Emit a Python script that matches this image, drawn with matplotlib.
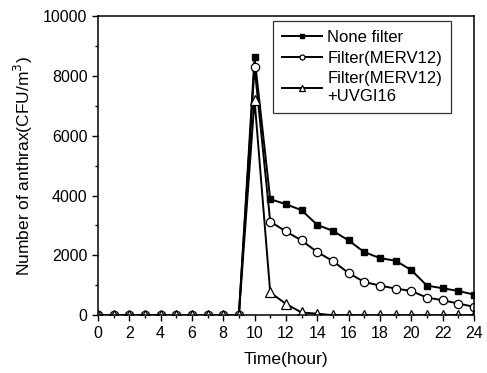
import numpy as np
import matplotlib
matplotlib.use("Agg")
import matplotlib.pyplot as plt

plt.rcParams['font.family'] = ['Liberation Sans', 'DejaVu Sans']

# hours 0..24
hours = list(range(25))

none_filter = [0, 0, 0, 0, 0, 0, 0, 0, 0, 0,
               8630, 3880, 3710, 3510, 3020, 2820, 2500, 2110, 1910, 1820,
               1510, 990, 900, 810, 690]
merv12 = [0, 0, 0, 0, 0, 0, 0, 0, 0, 0,
          8300, 3130, 2800, 2500, 2110, 1810, 1410, 1110, 990, 890,
          810, 590, 500, 390, 280]
merv12_uvgi = [0, 0, 0, 0, 0, 0, 0, 0, 0, 0,
               7210, 760, 380, 90, 50, 0, 0, 0, 0, 0,
               0, 0, 0, 0, 0]

labels = ['None filter', 'Filter(MERV12)', 'Filter(MERV12)\n+UVGI16']

fig = plt.figure(figsize=(4.87, 3.73), dpi=100)
ax = fig.add_axes([0.201, 0.155, 0.772, 0.802])

ax.plot(hours, none_filter, color='black', lw=1.4, marker='s', ms=5,
        mfc='black', mec='black', label=labels[0])
ax.plot(hours, merv12, color='black', lw=1.4, marker='o', ms=6,
        mfc='white', mec='black', mew=0.9, label=labels[1])
ax.plot(hours, merv12_uvgi, color='black', lw=1.4, marker='^', ms=6.5,
        mfc='white', mec='black', mew=0.9, label=labels[2])

ax.set_xlim(0, 24)
ax.set_ylim(0, 10000)
ax.set_xticks(range(0, 25, 2))
ax.set_xticks(range(0, 25, 1), minor=True)
ax.set_yticks(range(0, 10001, 2000))
ax.set_yticks(range(0, 10001, 1000), minor=True)
ax.tick_params(which='both', direction='out', labelsize=11.5, width=1)
ax.tick_params(which='major', length=4)
ax.tick_params(which='minor', length=2.5)
for s in ax.spines.values():
    s.set_linewidth(1.1)

ax.set_xlabel('Time(hour)', fontsize=12.5, labelpad=8)
ax.set_ylabel('Number of anthrax(CFU/m$^{3}$)', fontsize=12.5, labelpad=6)

leg = ax.legend(loc='upper right', bbox_to_anchor=(0.94, 0.985), fontsize=12,
                frameon=True, fancybox=False, edgecolor='black',
                handlelength=2.4, handletextpad=0.3, borderpad=0.55,
                labelspacing=0.35, markerscale=0.6, borderaxespad=0)
leg.get_frame().set_linewidth(0.9)

fig.savefig('out.png', dpi=100)
